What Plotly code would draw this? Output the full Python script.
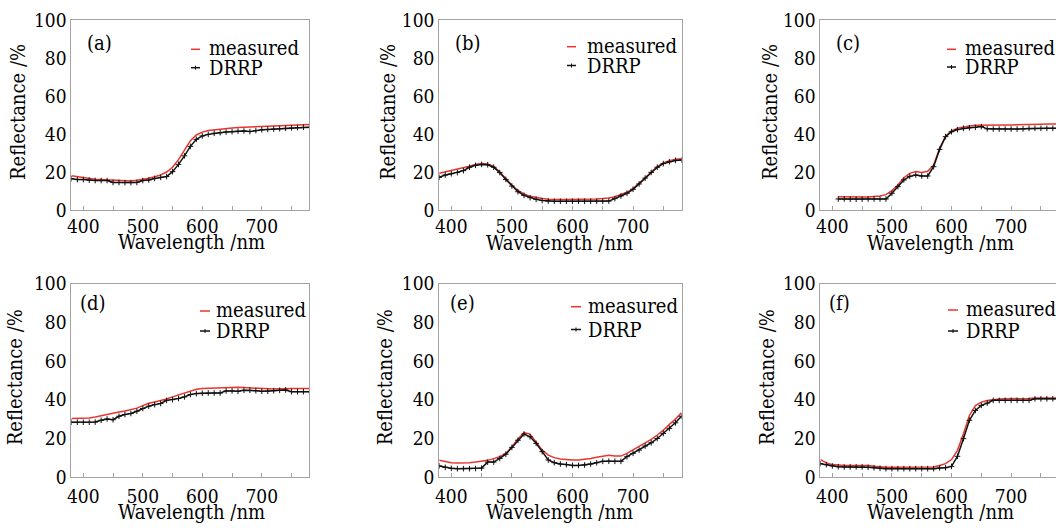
import plotly.graph_objects as go

W, H = 1056, 530

# ---- data: reflectance spectra (%), sampled every 10 nm ----
WAVELENGTH = [380, 390, 400, 410, 420, 430, 440, 450, 460, 470,
              480, 490, 500, 510, 520, 530, 540, 550, 560, 570,
              580, 590, 600, 610, 620, 630, 640, 650, 660, 670,
              680, 690, 700, 710, 720, 730, 740, 750, 760, 770, 780]
WAVELENGTH_C = [410, 420, 430, 440, 450, 460, 470, 480, 490, 500,
                510, 520, 530, 540, 550, 560, 570, 580, 590, 600,
                610, 620, 630, 640, 650, 660, 670, 680, 690, 700,
                710, 720, 730, 740, 750, 760, 770, 780]

MEASURED_A = [18.0, 17.5, 17.0, 16.6, 16.2, 16.0, 15.8, 15.6, 15.4, 15.3,
              15.3, 15.6, 16.1, 16.7, 17.5, 18.5, 20.0, 22.5, 26.5, 31.5,
              36.5, 39.5, 41.0, 41.8, 42.2, 42.6, 43.0, 43.2, 43.4, 43.6,
              43.7, 43.8, 44.0, 44.1, 44.2, 44.3, 44.5, 44.7, 44.8, 44.9, 45.0]
DRRP_A = [16.5, 16.0, 16.0, 15.7, 15.5, 15.5, 15.5, 14.5, 14.5, 14.4,
          14.4, 14.5, 15.5, 15.8, 16.6, 17.2, 17.6, 20.2, 24.0, 28.5,
          33.5, 37.2, 39.0, 39.8, 40.4, 40.7, 41.0, 41.2, 41.5, 41.6,
          41.3, 41.8, 42.2, 42.4, 42.6, 42.8, 43.0, 43.2, 43.4, 43.5, 43.5]

MEASURED_B = [19.3, 20.0, 20.8, 21.5, 22.0, 23.0, 24.0, 24.5, 24.2, 23.0,
              20.0, 16.5, 13.0, 10.3, 8.5, 7.2, 6.5, 6.0, 5.7, 5.5,
              5.5, 5.5, 5.5, 5.5, 5.5, 5.6, 5.8, 6.0, 6.3, 7.0,
              8.0, 9.3, 11.3, 14.0, 17.0, 20.0, 22.8, 24.8, 26.0, 26.7, 27.0]
DRRP_B = [17.2, 18.4, 19.1, 19.7, 20.7, 22.5, 23.5, 24.0, 23.8, 22.5,
          19.7, 16.1, 12.6, 9.6, 7.7, 6.5, 5.6, 5.0, 4.7, 4.6,
          4.6, 4.6, 4.6, 4.6, 4.6, 4.6, 4.6, 4.6, 4.7, 6.0,
          7.4, 8.8, 10.9, 13.7, 16.8, 19.8, 22.5, 24.4, 25.4, 26.1, 26.3]

MEASURED_C = [7.0, 6.9, 6.8, 6.8, 6.8, 6.9, 7.0, 7.4, 8.1, 10.2,
              13.2, 17.0, 19.3, 20.2, 19.8, 20.4, 23.7, 32.5, 38.9, 41.7,
              43.0, 43.7, 44.2, 44.6, 44.7, 44.8, 44.8, 44.8, 44.8, 44.8,
              44.8, 44.8, 44.9, 45.0, 45.1, 45.2, 45.2, 45.2]
DRRP_C = [5.8, 5.8, 5.7, 5.7, 5.7, 5.8, 5.8, 5.8, 5.8, 8.8,
          12.3, 15.8, 17.7, 18.4, 17.9, 17.9, 22.8, 31.9, 38.6, 41.2,
          42.3, 43.0, 43.3, 43.5, 43.9, 42.7, 42.6, 42.6, 42.6, 42.6,
          42.6, 42.7, 43.0, 43.0, 43.0, 43.0, 43.0, 43.0]

MEASURED_D = [30.2, 30.2, 30.2, 30.5, 31.0, 31.7, 32.4, 33.1, 33.6, 34.1,
              34.8, 35.6, 36.9, 38.1, 38.8, 39.5, 40.3, 41.4, 42.4, 43.6,
              44.6, 45.3, 45.7, 45.8, 46.0, 46.2, 46.4, 46.4, 46.4, 46.2,
              46.0, 45.9, 45.7, 45.7, 45.5, 45.6, 45.8, 45.8, 45.8, 45.8, 45.7]
DRRP_D = [28.3, 28.3, 28.3, 28.3, 28.4, 29.3, 30.0, 29.6, 31.4, 32.3,
          32.8, 34.0, 35.4, 36.6, 37.4, 38.0, 39.6, 40.0, 40.6, 41.4,
          42.6, 43.1, 43.3, 43.4, 43.4, 43.4, 44.5, 44.5, 44.3, 44.8,
          44.8, 44.6, 44.3, 44.3, 44.6, 44.8, 45.0, 44.1, 44.1, 44.1, 44.1]

MEASURED_E = [8.6, 8.0, 7.4, 7.2, 7.2, 7.4, 7.7, 8.1, 8.6, 9.5,
              10.5, 12.2, 15.6, 19.6, 23.0, 22.2, 18.2, 13.9, 11.3, 10.0,
              9.3, 8.9, 8.8, 8.8, 9.1, 9.6, 10.2, 10.8, 11.2, 10.8,
              10.8, 12.2, 13.9, 15.6, 17.4, 19.4, 21.7, 24.2, 27.2, 29.9, 33.2]
DRRP_E = [5.7, 5.0, 4.5, 4.3, 4.3, 4.3, 4.4, 4.6, 7.7, 7.7,
          9.6, 11.8, 15.3, 19.0, 22.2, 20.8, 17.4, 13.1, 8.8, 7.4,
          6.7, 6.4, 6.0, 6.0, 6.2, 6.7, 7.4, 8.1, 8.2, 8.1,
          8.1, 10.5, 12.2, 13.9, 16.0, 17.7, 19.9, 22.5, 25.1, 28.0, 31.4]

MEASURED_F = [9.0, 7.3, 6.4, 6.1, 5.9, 6.0, 6.1, 6.1, 6.0, 5.5,
              5.2, 5.0, 5.0, 5.0, 5.0, 5.0, 5.0, 5.0, 5.0, 5.2,
              5.9, 6.9, 9.0, 13.8, 22.4, 31.8, 36.9, 38.7, 39.5, 40.0,
              40.3, 40.4, 40.4, 40.4, 40.5, 40.6, 40.8, 40.9, 40.9, 40.9, 40.9]
DRRP_F = [6.9, 6.4, 5.7, 5.3, 5.2, 5.2, 5.2, 5.2, 5.0, 4.8,
          4.5, 4.3, 4.3, 4.3, 4.3, 4.3, 4.3, 4.3, 4.3, 4.3,
          4.7, 4.8, 5.5, 10.7, 19.8, 29.3, 34.4, 37.0, 38.2, 39.6,
          39.6, 39.6, 39.6, 39.6, 39.6, 39.6, 40.4, 40.4, 40.4, 40.4, 40.4]

PANEL_LABELS = ["(a)", "(b)", "(c)", "(d)", "(e)", "(f)"]
SERIES_NAMES = ["measured", "DRRP"]
X_TITLE = "Wavelength /nm"
Y_TITLE = "Reflectance /%"
X_TICK_STEP = 100
X_MINOR_STEP = 50
Y_TICKS = [0, 20, 40, 60, 80, 100]

# ---- styling ----
FONT = "DejaVu Serif Condensed"
TICK_SIZE = 19
TEXT_SIZE = 20
GREY = "#a3a3a3"
RED = "#e8352e"
BLACK = "#111111"


def fx(p):
    return p / W


def fy(p):
    return 1 - p / H


# layout of each panel in pixels
# plot box (left, right, top, bottom), x max shown, right border,
# label anchor, legend (line x0, line x1, text x, row1 y, row2 y),
# y-title centre x, x-title centre y, x tick-label standoff
panels = [
    dict(x=WAVELENGTH, m=MEASURED_A, d=DRRP_A, box=(71.4, 309.4, 20, 210), xmax=780, right=True,
         label=(85, 43.3), leg=(191, 200, 207, 49.3, 67.7), yt=18, xt=242, so=-1),
    dict(x=WAVELENGTH, m=MEASURED_B, d=DRRP_B, box=(439.2, 681.5, 20, 210), xmax=780, right=True,
         label=(452.7, 43), leg=(567, 576, 585, 46.7, 65.5), yt=388, xt=243, so=-1),
    dict(x=WAVELENGTH_C, m=MEASURED_C, d=DRRP_C, box=(820.4, 1056, 20, 210), xmax=775.3, right=False,
         label=(834, 43), leg=(947, 956, 963, 49.3, 67), yt=770, xt=243, so=-1),
    dict(x=WAVELENGTH, m=MEASURED_D, d=DRRP_D, box=(71.4, 309.4, 283.5, 477), xmax=780, right=True,
         label=(78, 303.3), leg=(200, 210, 214, 311, 331), yt=15, xt=511.5, so=2),
    dict(x=WAVELENGTH, m=MEASURED_E, d=DRRP_E, box=(439.2, 681.5, 283.5, 477), xmax=780, right=True,
         label=(448, 303), leg=(571, 581, 586, 306.7, 329.5), yt=385, xt=511.5, so=2),
    dict(x=WAVELENGTH, m=MEASURED_F, d=DRRP_F, box=(820.4, 1056, 283.5, 477), xmax=775.3, right=False,
         label=(827, 303), leg=(948, 958, 964, 310, 331), yt=767, xt=511.5, so=2),
]

fig = go.Figure()
annotations = []
shapes = []
layout_axes = {}


def text_note(text, x, y, anchor="left", angle=0):
    return dict(text=text, x=fx(x), y=fy(y), xref="paper", yref="paper", textangle=angle,
                xanchor=anchor, yanchor="middle", showarrow=False,
                font=dict(family=FONT, size=TEXT_SIZE, color="black"))


for i, p in enumerate(panels, start=1):
    sfx = "" if i == 1 else str(i)
    xa, ya = "x" + sfx, "y" + sfx
    left, right, top, bottom = p["box"]

    fig.add_trace(go.Scatter(
        x=p["x"], y=p["m"], mode="lines", name=SERIES_NAMES[0],
        line=dict(color=RED, width=1.5), xaxis=xa, yaxis=ya, showlegend=False))
    fig.add_trace(go.Scatter(
        x=p["x"], y=p["d"], mode="lines+markers", name=SERIES_NAMES[1],
        line=dict(color=BLACK, width=1.5),
        marker=dict(symbol="cross-thin-open", size=4, line=dict(color=BLACK, width=1)),
        xaxis=xa, yaxis=ya, showlegend=False))

    layout_axes["xaxis" + sfx] = dict(
        domain=[fx(left), fx(right)], range=[380, p["xmax"]], anchor=ya,
        tick0=0, dtick=X_TICK_STEP, ticks="inside", ticklen=4, tickwidth=1, tickcolor=GREY,
        minor=dict(tick0=0, dtick=X_MINOR_STEP, ticks="inside", ticklen=4, tickwidth=1,
                   tickcolor=GREY, showgrid=False),
        ticklabelstandoff=p["so"],
        showline=True, linecolor=GREY, linewidth=1, mirror=True,
        showgrid=False, zeroline=False,
        tickfont=dict(family=FONT, size=TICK_SIZE, color="black"))
    layout_axes["yaxis" + sfx] = dict(
        domain=[fy(bottom), fy(top)], range=[0, 100], anchor=xa,
        tickmode="array", tickvals=Y_TICKS, ticks="",
        showline=True, linecolor=GREY, linewidth=1, mirror=p["right"],
        showgrid=False, zeroline=False,
        tickfont=dict(family=FONT, size=TICK_SIZE, color="black"))

    # panel label
    lx, ly = p["label"]
    annotations.append(text_note(PANEL_LABELS[i - 1], lx, ly))

    # legend: short line samples + names
    x0, x1, tx, y1, y2 = p["leg"]
    shapes.append(dict(type="line", xref="paper", yref="paper", x0=fx(x0), x1=fx(x1),
                       y0=fy(y1), y1=fy(y1), line=dict(color=RED, width=1.5)))
    shapes.append(dict(type="line", xref="paper", yref="paper", x0=fx(x0), x1=fx(x1),
                       y0=fy(y2), y1=fy(y2), line=dict(color=BLACK, width=1.5)))
    xm = (x0 + x1) / 2
    shapes.append(dict(type="line", xref="paper", yref="paper", x0=fx(xm), x1=fx(xm),
                       y0=fy(y2 - 2), y1=fy(y2 + 2), line=dict(color=BLACK, width=1)))
    annotations.append(text_note(SERIES_NAMES[0], tx, y1 - 1))
    annotations.append(text_note(SERIES_NAMES[1], tx, y2))

    # axis titles
    annotations.append(text_note(Y_TITLE, p["yt"], (top + bottom) / 2 - 3, "center", -90))
    annotations.append(text_note(X_TITLE, left + 120, p["xt"], "center"))

fig.update_layout(
    width=W, height=H, template="none",
    margin=dict(l=0, r=0, t=0, b=0, pad=0),
    paper_bgcolor="white", plot_bgcolor="white",
    font=dict(family=FONT, size=TICK_SIZE, color="black"),
    showlegend=False, annotations=annotations, shapes=shapes,
    **layout_axes)

fig.write_html("out.html")
